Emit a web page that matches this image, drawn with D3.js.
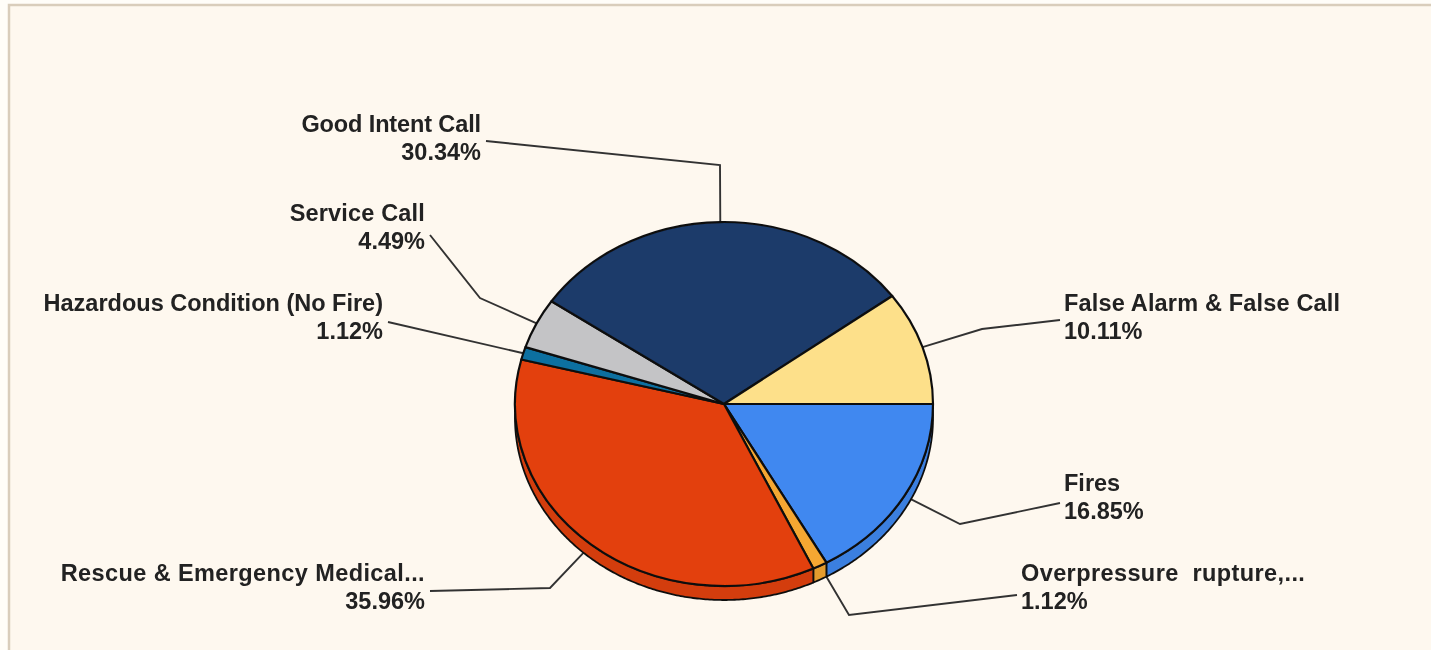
<!DOCTYPE html>
<html>
<head>
<meta charset="utf-8">
<script src="https://cdn.jsdelivr.net/npm/d3@7"></script>
<style>
    html, body { margin: 0; padding: 0; background: #fffdf8; overflow: hidden; }
    svg { display: block; }
    text { font-family: "Liberation Sans", Arial, sans-serif; font-weight: bold; font-size: 23.5px; fill: #222; white-space: pre; }
</style>
</head>
<body>
<div id="chart"></div>
<script>
// values, clockwise from 3 o'clock
var categories = ['Fires', 'Overpressure  rupture,...', 'Rescue & Emergency Medical...', 'Hazardous Condition (No Fire)', 'Service Call', 'Good Intent Call', 'False Alarm & False Call'];
var percents = [16.85, 1.12, 35.96, 1.12, 4.49, 30.34, 10.11];
var colors = ['#3f88f0', '#f5a733', '#e34007', '#0e6fa0', '#c4c4c6', '#1a3a6b', '#fde08a'];

// label layout, same order as categories
var labelX = [1064, 1021, 425, 383, 425, 481, 1064];
var labelY = [491, 581, 581, 311, 221, 132, 311];
var labelAnchor = ['start', 'start', 'end', 'end', 'end', 'end', 'start'];
var labelSpacing = [0, 0.4, 0.4, 0, 0.17, -0.12, 0.17];
var elbows = [
    [[960, 524], [1060, 503]],
    [[849, 615], [1017, 595]],
    [[550, 588], [430, 591]],
    [[388, 322]],
    [[480, 298], [430, 235]],
    [[720, 165], [486, 141]],
    [[982, 329], [1060, 320]]
];

var width = 1431, height = 650;
var cx = 724, cy = 404, rx = 209, ry = 182, depth = 14;

var svg = d3.select('#chart').append('svg')
    .attr('width', width)
    .attr('height', height);

var defs = svg.append('defs');
defs.append('filter').attr('id', 'soft')
    .append('feGaussianBlur').attr('stdDeviation', 0.7);

var root = svg.append('g').attr('filter', 'url(#soft)');

// panel
root.append('rect')
    .attr('x', 9).attr('y', 5)
    .attr('width', width + 20).attr('height', height + 20)
    .attr('fill', '#fef8ef')
    .attr('stroke', '#d9cdbb')
    .attr('stroke-width', 2.5);

// d3 angle 0 is 12 o'clock, so start the pie at 3 o'clock
var pie = d3.pie().sort(null).startAngle(Math.PI / 2).endAngle(Math.PI * 2.5);
var slices = pie(percents);

var arc = d3.arc().innerRadius(0).outerRadius(rx);

function rimPoint(a, drop) {
    return [cx + rx * Math.sin(a), cy - ry * Math.cos(a) + (drop || 0)];
}

var ellipse = 'translate(' + cx + ',' + cy + ') scale(1,' + (ry / rx) + ')';
var line = d3.line();

// leader lines, start on the rim and run under the pie
root.append('g').attr('class', 'leaders')
    .selectAll('path')
    .data(slices)
    .enter().append('path')
    .attr('d', function (d, i) {
        var start = rimPoint((d.startAngle + d.endAngle) / 2, 0);
        return line([start].concat(elbows[i]));
    })
    .attr('fill', 'none')
    .attr('stroke', '#333')
    .attr('stroke-width', 1.9);

// side wall, only the part of the rim facing the viewer
var wall = root.append('g').attr('class', 'wall');
slices.forEach(function (d, i) {
    var a0 = Math.max(d.startAngle, Math.PI / 2);
    var a1 = Math.min(d.endAngle, Math.PI * 1.5);
    if (a1 <= a0) return;
    var angles = d3.range(a0, a1, 0.01).concat([a1]);
    var pts = angles.map(function (a) { return rimPoint(a, 0); })
        .concat(angles.slice().reverse().map(function (a) { return rimPoint(a, depth); }));
    wall.append('path')
        .attr('d', line(pts) + 'Z')
        .attr('fill', d3.color(colors[i]).darker(0.2))
        .attr('stroke', '#111')
        .attr('stroke-width', 1.8)
        .attr('stroke-linejoin', 'round');
});

// top face
root.append('g').attr('class', 'arc')
    .attr('transform', ellipse)
    .selectAll('path')
    .data(slices)
    .enter().append('path')
    .attr('d', arc)
    .attr('fill', function (d, i) { return colors[i]; })
    .attr('stroke', '#111')
    .attr('stroke-width', 2.2)
    .attr('stroke-linejoin', 'round')
    .attr('vector-effect', 'non-scaling-stroke');

// labels
var lg = root.append('g').attr('class', 'label');
categories.forEach(function (name, i) {
    var t = lg.append('text')
        .attr('x', labelX[i])
        .attr('y', labelY[i])
        .attr('text-anchor', labelAnchor[i]);
    t.append('tspan').attr('x', labelX[i]).style('letter-spacing', labelSpacing[i] + 'px').text(name);
    t.append('tspan').attr('x', labelX[i]).attr('dy', 28).text(d3.format('.2f')(percents[i]) + '%');
});
</script>
</body>
</html>
